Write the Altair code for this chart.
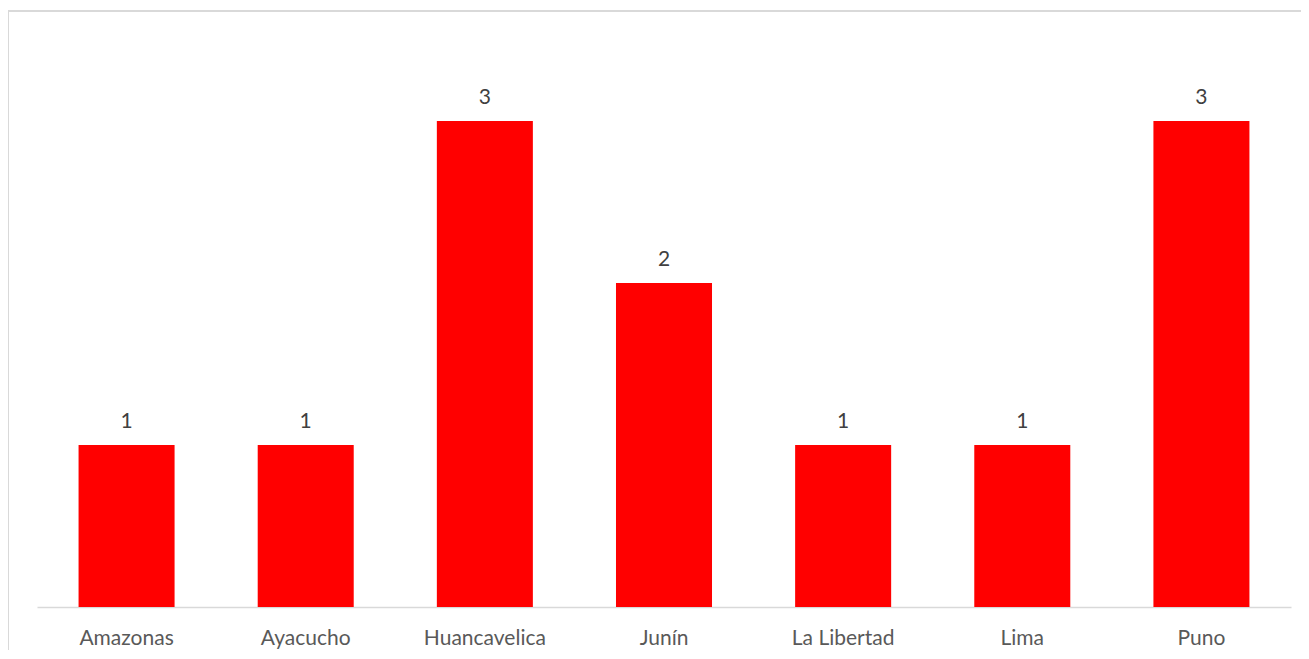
import altair as alt
import pandas as pd

regions = ["Amazonas", "Ayacucho", "Huancavelica", "Junín", "La Libertad", "Lima", "Puno"]
counts = [1, 1, 3, 2, 1, 1, 3]

df = pd.DataFrame({"region": regions, "count": counts})

W = 1254
H = 567
FONT = "Lato"
TXT = "#595959"
GRID = "#d9d9d9"

base = alt.Chart(df).encode(
    x=alt.X("region:N", sort=regions,
            scale=alt.Scale(paddingInner=0.464, paddingOuter=0.232),
            axis=alt.Axis(title=None, labelAngle=0, ticks=False, domain=True,
                          domainColor=GRID, domainWidth=1.5,
                          labelFont=FONT, labelFontSize=21, labelColor=TXT,
                          labelPadding=20)),
    y=alt.Y("count:Q", scale=alt.Scale(domain=[0, 3.5], nice=False),
            axis=None),
)

bars = base.mark_bar(color="#ff0000")
labels = base.mark_text(dy=-23, baseline="middle", font=FONT, fontSize=21, color="#404040").encode(
    text="count:Q")

frame_top = alt.Chart(df).mark_rule(color=GRID, strokeWidth=1.5).encode(
    x=alt.value(-29), x2=alt.value(W + 20), y=alt.value(-29))
frame_left = alt.Chart(df).mark_rule(color=GRID, strokeWidth=1.5).encode(
    x=alt.value(-29), y=alt.value(-29), y2=alt.value(H + 100))

chart = alt.layer(frame_top, frame_left, bars, labels).properties(
    width=W, height=H,
    autosize=alt.AutoSizeParams(type="none"),
    padding={"left": 29, "top": 32, "right": 10, "bottom": 43},
).configure_view(stroke=None)

chart.save("out.html", embed_options={"renderer": "svg", "actions": False})
